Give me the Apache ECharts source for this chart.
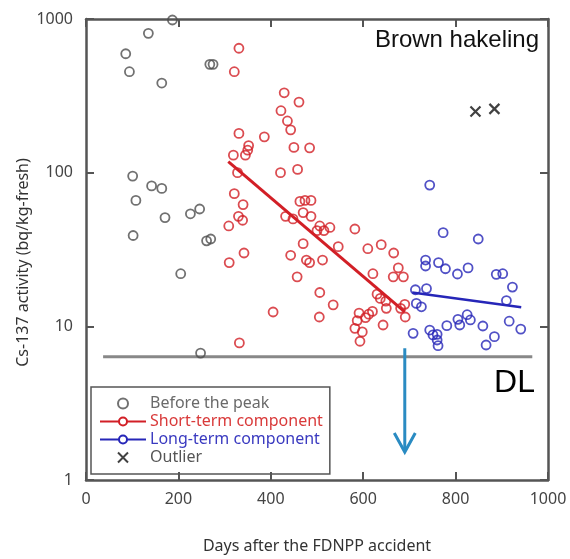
<!DOCTYPE html>
<html>
<head>
<meta charset="utf-8">
<script src="https://cdn.jsdelivr.net/npm/echarts@6/dist/echarts.min.js"></script>
<style>html,body{margin:0;padding:0;background:#fff;}#c{width:570px;height:559px;}</style>
</head>
<body>
<div id="c"></div>
<script>
const xTicks = [0, 200, 400, 600, 800, 1000];
const yTicks = [1, 10, 100, 1000];

const beforePeak = [
  [187, 985], [135, 807], [86, 594], [94, 454], [164, 383], [268, 507], [275, 507],
  [101, 95], [142, 82], [164, 79], [108, 66], [171, 51], [226, 54], [246, 58],
  [102, 39], [261, 36], [270, 37], [205, 22], [248, 6.7]
];

const shortTerm = [
  [331, 645], [321, 454], [331, 180], [386, 171], [352, 150], [350, 140], [345, 130],
  [319, 130], [328, 100], [321, 73], [340, 62], [330, 52], [339, 49], [309, 45],
  [342, 30], [310, 26], [332, 7.8], [429, 331], [461, 288], [422, 253], [436, 217],
  [443, 190], [450, 146], [484, 145], [458, 105], [421, 100], [463, 65], [474, 66],
  [487, 66], [470, 55], [487, 52], [432, 52], [448, 50], [506, 45], [500, 42],
  [515, 42], [528, 44], [582, 43], [470, 34.5], [546, 33], [610, 32], [639, 34],
  [666, 30], [443, 29], [477, 27], [484, 26], [512, 27], [457, 21], [621, 22],
  [665, 21], [676, 24], [687, 21], [506, 16.6], [535, 13.8], [405, 12.4], [505, 11.5],
  [630, 16.2], [637, 15.2], [649, 14.6], [650, 13.1], [681, 13.1], [690, 13.9],
  [691, 11.5], [643, 10.2], [591, 12.2], [587, 10.9], [582, 9.7], [598, 9.2],
  [593, 8.0], [605, 11.4], [612, 12.0], [620, 12.5]
];

const longTerm = [
  [744, 83], [773, 40.7], [849, 37], [735, 27], [735, 24.7], [763, 26], [778, 23.7],
  [804, 21.9], [827, 24], [888, 21.8], [902, 22], [923, 18], [713, 17.3], [737, 17.6],
  [715, 14.1], [726, 13.4], [910, 14.7], [805, 11.1], [825, 11.9], [832, 11.0],
  [809, 10.2], [781, 10.1], [859, 10.05], [916, 10.8], [941, 9.6], [708, 9.0],
  [744, 9.46], [751, 8.79], [760, 8.87], [760, 8.15], [762, 7.48], [884, 8.57], [866, 7.56]
];

const outliers = [[843, 250], [884, 260]];

const shortFit = [[308, 118], [690, 12.4]];
const longFit = [[706, 16.6], [942, 13.3]];
const detectionLimit = [[37, 6.33], [966, 6.33]];
const arrowData = [[690, 7.2, 1.52]];

const GRAY = '#4d4d4d', RED = '#d21f26', BLUE = '#2626b8', FRAME = '#555';
const FONT = 'Noto Sans';

const chart = echarts.init(document.getElementById('c'), null, {renderer: 'canvas'});

const axisCommon = {
  axisLine: {show: true, onZero: false, lineStyle: {color: FRAME, width: 2.5}},
  axisTick: {show: true, inside: true, length: 8, lineStyle: {color: FRAME, width: 2}},
  splitLine: {show: false},
  minorTick: {show: false}
};

const plain = v => String(v);
const ptStyle = c => ({color: 'transparent', borderColor: c, borderWidth: 1.8});

chart.setOption({
  animation: false,
  backgroundColor: '#fff',
  textStyle: {fontFamily: FONT},
  title: {
    text: 'Brown hakeling', right: 31, top: 28, padding: 0,
    textStyle: {fontFamily: 'Liberation Sans', fontSize: 24, fontWeight: 'normal', color: '#111'}
  },
  grid: {left: 86, right: 22, top: 19, bottom: 79},
  legend: {
    orient: 'vertical', left: 91, top: 387,
    padding: [8, 7, 8, 8],
    borderColor: FRAME, borderWidth: 1.5,
    itemWidth: 46, itemHeight: 10, itemGap: 1,
    textStyle: {fontFamily: FONT, fontSize: 16, lineHeight: 17, padding: [0, 0, 0, -1]},
    data: [
      {name: 'Before the peak', textStyle: {color: '#6a6a6a'}},
      {name: 'Short-term component', textStyle: {color: '#d93a3a'}},
      {name: 'Long-term component', textStyle: {color: '#3a3ac0'}},
      {name: 'Outlier', textStyle: {color: '#555'}}
    ]
  },
  xAxis: [
    Object.assign({
      type: 'value', min: xTicks[0], max: xTicks[xTicks.length - 1], interval: 200,
      position: 'bottom',
      name: 'Days after the FDNPP accident', nameLocation: 'middle', nameGap: 58,
      nameTextStyle: {fontFamily: FONT, fontSize: 16, color: '#333'},
      axisLabel: {margin: 11, fontFamily: FONT, fontSize: 16, color: '#444', formatter: plain}
    }, axisCommon),
    Object.assign({
      type: 'value', min: xTicks[0], max: xTicks[xTicks.length - 1], interval: 200,
      position: 'top', axisLabel: {show: false}
    }, axisCommon)
  ],
  yAxis: [
    Object.assign({
      type: 'log', logBase: 10, min: yTicks[0], max: yTicks[yTicks.length - 1],
      position: 'left',
      name: 'Cs-137 activity (bq/kg-fresh)', nameLocation: 'middle', nameGap: 55,
      nameMoveOverlap: false,
      nameTextStyle: {fontFamily: FONT, fontSize: 16, color: '#333', padding: [0, 0, 0, -26]},
      axisLabel: {margin: 13, fontFamily: FONT, fontSize: 16, color: '#444', formatter: plain}
    }, axisCommon),
    Object.assign({
      type: 'log', logBase: 10, min: yTicks[0], max: yTicks[yTicks.length - 1],
      position: 'right', axisLabel: {show: false}
    }, axisCommon)
  ],
  series: [
    {
      name: 'DL', type: 'line', data: detectionLimit, silent: true,
      symbol: 'none', lineStyle: {color: '#888', width: 3}, z: 1
    },
    {
      name: 'Before the peak', type: 'scatter', data: beforePeak,
      symbol: 'circle', symbolSize: 9, itemStyle: ptStyle(GRAY)
    },
    {
      name: 'Short-term component', type: 'line', data: shortFit,
      symbol: 'emptyCircle', showSymbol: false, symbolSize: 8,
      itemStyle: {color: RED}, lineStyle: {color: RED, width: 3}, z: 3
    },
    {
      name: 'Short-term points', type: 'scatter', data: shortTerm,
      symbol: 'circle', symbolSize: 9, itemStyle: ptStyle(RED)
    },
    {
      name: 'Long-term component', type: 'line', data: longFit,
      symbol: 'emptyCircle', showSymbol: false, symbolSize: 8,
      itemStyle: {color: BLUE}, lineStyle: {color: BLUE, width: 2.5}, z: 3
    },
    {
      name: 'Long-term points', type: 'scatter', data: longTerm,
      symbol: 'circle', symbolSize: 9, itemStyle: ptStyle(BLUE)
    },
    {
      name: 'Outlier', type: 'scatter', data: outliers,
      symbol: 'path://M0,0L10,10M10,0L0,10', symbolSize: 10,
      itemStyle: {color: 'transparent', borderColor: '#111', borderWidth: 2.2}
    },
    {
      name: 'arrow', type: 'custom', data: arrowData, silent: true, z: 4,
      encode: {x: 0, y: [1, 2]},
      renderItem: function (params, api) {
        const p0 = api.coord([api.value(0), api.value(1)]);
        const p1 = api.coord([api.value(0), api.value(2)]);
        const col = '#2a8bc2';
        return {
          type: 'group',
          children: [
            {type: 'line', shape: {x1: p0[0], y1: p0[1], x2: p1[0], y2: p1[1] - 1},
             style: {stroke: col, lineWidth: 3}},
            {type: 'polyline',
             shape: {points: [[p1[0] - 10.5, p1[1] - 19], [p1[0], p1[1]], [p1[0] + 10.5, p1[1] - 19]]},
             style: {stroke: col, lineWidth: 3, fill: null}}
          ]
        };
      }
    }
  ],
  graphic: [
    {type: 'text', right: 35, top: 367,
     style: {text: 'DL', fontFamily: 'Liberation Sans', fontSize: 32, fill: '#000'}}
  ]
});
</script>
</body>
</html>
